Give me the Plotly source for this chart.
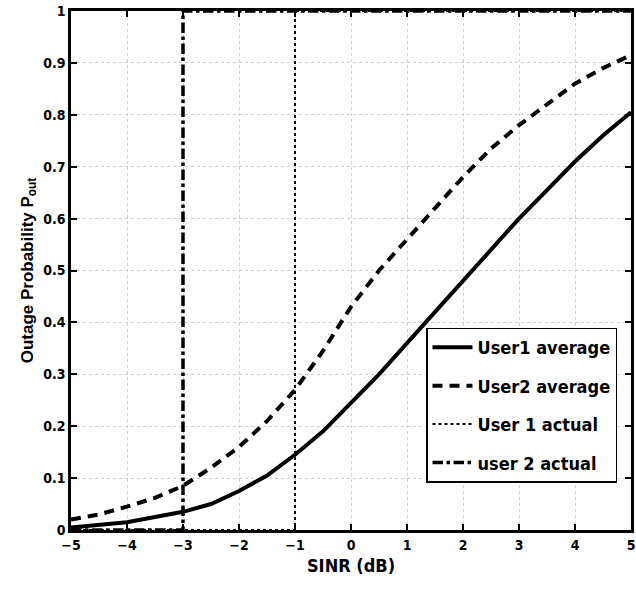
import plotly.graph_objects as go

sinr = [-5, -4.5, -4, -3.5, -3, -2.5, -2, -1.5, -1, -0.5, 0, 0.5, 1, 1.5, 2, 2.5, 3, 3.5, 4, 4.5, 5]
user1_avg = [0.005, 0.01, 0.015, 0.025, 0.035, 0.05, 0.075, 0.105, 0.145, 0.19, 0.245, 0.30, 0.36, 0.42, 0.48, 0.54, 0.60, 0.655, 0.71, 0.76, 0.805]
user2_avg = [0.02, 0.03, 0.045, 0.062, 0.085, 0.12, 0.16, 0.21, 0.27, 0.345, 0.43, 0.50, 0.56, 0.62, 0.68, 0.735, 0.78, 0.82, 0.86, 0.89, 0.915]
user1_thr = -1
user2_thr = -3
step_x1 = [-5, user1_thr, user1_thr, 5]
step_y = [0, 0, 1, 1]
step_x2 = [-5, user2_thr, user2_thr, 5]

fig = go.Figure()
fig.add_trace(go.Scatter(x=sinr, y=user1_avg, mode="lines", name="User1 average", legendgroup="a",
                         line=dict(color="black", width=4)))
fig.add_trace(go.Scatter(x=sinr, y=user2_avg, mode="lines", name="User2 average", legendgroup="b",
                         line=dict(color="black", width=4, dash="10px,7px")))
fig.add_trace(go.Scatter(x=step_x1, y=step_y, mode="lines", name="User 1 actual", legendgroup="c",
                         line=dict(color="black", width=2, dash="dot")))
fig.add_trace(go.Scatter(x=step_x2, y=step_y, mode="lines", name="user 2 actual", legendgroup="d",
                         line=dict(color="black", width=3.5, dash="dashdot")))

narrow = "DejaVu Sans Condensed, Liberation Sans Narrow, Arial Narrow, sans-serif"
tickfont = dict(family=narrow, size=14, color="black", weight="bold")
axis_common = dict(showline=True, linecolor="black", linewidth=2.5, mirror="ticks",
                   ticks="inside", ticklen=6, tickwidth=1.5, tickcolor="black",
                   showgrid=True, gridcolor="#d0d0d0", griddash="dot", gridwidth=1,
                   zeroline=False, tickfont=tickfont)

fig.update_layout(
    width=636, height=595,
    margin=dict(l=71, r=2, t=11, b=65),
    paper_bgcolor="white", plot_bgcolor="white",
    xaxis=dict(range=[-5, 5], tickmode="array", tickvals=list(range(-5, 6)),
               title=dict(text="SINR (dB)", font=dict(family=narrow, size=18, color="black", weight="bold"), standoff=8),
               **axis_common),
    yaxis=dict(range=[0, 1], tickmode="array", tickvals=[i / 10 for i in range(11)],
               ticktext=["0", "0.1", "0.2", "0.3", "0.4", "0.5", "0.6", "0.7", "0.8", "0.9", "1"],
               title=dict(text="Outage Probability P<sub>out</sub>", font=dict(family="Liberation Sans, Arial, sans-serif", size=17, color="black", weight="bold"), standoff=6),
               **axis_common),
    legend=dict(x=0.975, y=0.39, xanchor="right", yanchor="top",
                bgcolor="white", bordercolor="black", borderwidth=1.5,
                font=dict(family=narrow, size=18, color="black", weight="bold"),
                itemwidth=40, tracegroupgap=12),
    showlegend=True,
)

fig.write_html("out.html")
